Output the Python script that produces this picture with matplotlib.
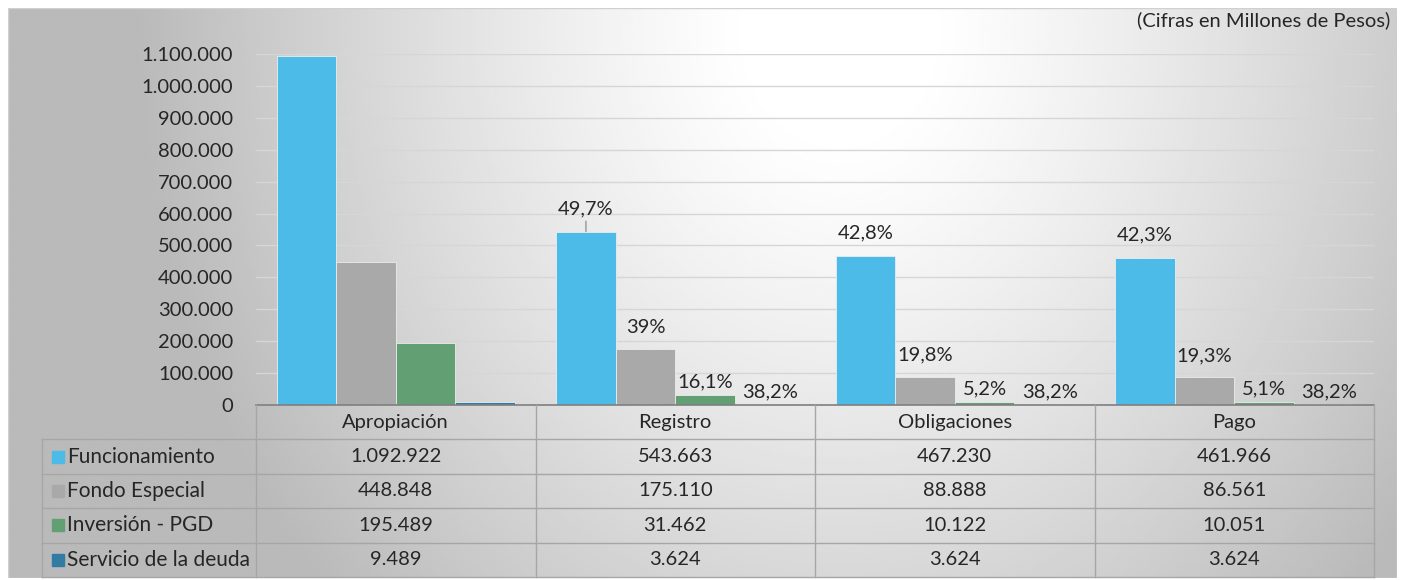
import numpy as np
import matplotlib.pyplot as plt
from matplotlib.patches import Rectangle

plt.rcParams['font.family'] = ['Lato', 'DejaVu Sans']

# Datos (millones de pesos)
categorias = ["Apropiación", "Registro", "Obligaciones", "Pago"]
series = ["Funcionamiento", "Fondo Especial", "Inversión - PGD", "Servicio de la deuda"]
funcionamiento = [1092922, 543663, 467230, 461966]
fondo_especial = [448848, 175110, 88888, 86561]
inversion_pgd = [195489, 31462, 10122, 10051]
servicio_deuda = [9489, 3624, 3624, 3624]

# etiquetas de porcentaje sobre las barras
pct_funcionamiento = ["", "49,7%", "42,8%", "42,3%"]
pct_fondo = ["", "39%", "19,8%", "19,3%"]
pct_inversion = ["", "16,1%", "5,2%", "5,1%"]
pct_servicio = ["", "38,2%", "38,2%", "38,2%"]

y_ticks = [0, 100000, 200000, 300000, 400000, 500000, 600000,
           700000, 800000, 900000, 1000000, 1100000]

colores = ["#4dbbe7", "#a9a9a9", "#62a073", "#327ba3"]
texto = "#262626"
linea = "#a6a6a6"
fs = 14.5


def miles(v):
    return f"{v:,}".replace(",", ".")


W, H = 1405, 580
fig = plt.figure(figsize=(W / 100, H / 100), dpi=100)


def fx(px):
    return px / W


def fy(py):
    return 1 - py / H


# fondo degradado
bg = fig.add_axes([fx(8), fy(578), fx(1397) - fx(8), fy(8) - fy(578)])
xx, yy = np.meshgrid(np.linspace(8, 1397, 500), np.linspace(8, 578, 220))
r = np.sqrt(((xx - 840) / 700) ** 2 + ((yy - 30) / 820) ** 2)
shade = 1 - 0.27 * np.clip((r - 0.12) / 0.88, 0, 1) ** 1.2
bg.imshow(shade, cmap='gray', vmin=0, vmax=1, extent=[0, 1, 0, 1],
          aspect='auto', origin='upper', interpolation='bilinear')
bg.add_patch(Rectangle((0, 0), 1, 1, transform=bg.transAxes, fill=False,
                       edgecolor='#d0d0d0', lw=1))
bg.axis('off')

# grafico de barras
ax = fig.add_axes([fx(256), fy(405), fx(1374) - fx(256), fy(54) - fy(405)])
ax.set_facecolor('none')
x = np.arange(len(categorias))
w = 0.213
valores = [funcionamiento, fondo_especial, inversion_pgd, servicio_deuda]
etiquetas = [pct_funcionamiento, pct_fondo, pct_inversion, pct_servicio]
despl_y = [23, 22, 13, 12]  # px sobre la barra
despl_x = [0, 0, 0, 6]

for j, (vals, col) in enumerate(zip(valores, colores)):
    pos = x + (j - 1.5) * w
    ax.bar(pos, vals, width=w, color=col, edgecolor='#ececec', lw=0.6, zorder=3)
    for i, (p, v, t) in enumerate(zip(pos, vals, etiquetas[j])):
        if not t:
            continue
        props = None
        if j == 0 and i == 1:
            props = dict(arrowstyle='-', color='#808080', lw=0.8, shrinkA=1, shrinkB=0)
        ax.annotate(t, xy=(p, v), xytext=(despl_x[j] * 0.72, despl_y[j] * 0.72),
                    textcoords='offset points', ha='center', va='center',
                    fontsize=fs, color=texto, arrowprops=props, zorder=4)

ax.set_xlim(-0.5, 3.5)
ax.set_ylim(0, 1100000)
ax.set_yticks(y_ticks)
ax.set_yticklabels([miles(v) for v in y_ticks])
ax.set_xticks([])
ax.tick_params(axis='y', length=0, pad=16.5, labelsize=fs, labelcolor=texto)
ax.yaxis.grid(True, color='#d6d6d6', lw=1)
ax.set_axisbelow(True)
for s in ['top', 'right', 'left']:
    ax.spines[s].set_visible(False)
ax.spines['bottom'].set_color('#7f7f7f')
ax.spines['bottom'].set_linewidth(1.2)
ax.spines['bottom'].set_zorder(5)

# tabla de datos
tb = fig.add_axes([fx(256), fy(577), fx(1374) - fx(256), fy(405) - fy(577)])
tb.set_xlim(-0.5, 3.5)
tb.set_ylim(5, 0)
tb.axis('off')


def px2x(px):
    return -0.5 + (px - 256) / 1118 * 4


izq = px2x(42)
for k in range(1, 6):
    tb.plot([izq, 3.5], [k, k], color=linea, lw=1, clip_on=False)
for xv in [-0.5, 0.5, 1.5, 2.5, 3.5]:
    tb.plot([xv, xv], [0, 5], color=linea, lw=1, clip_on=False)
tb.plot([izq, izq], [1, 5], color=linea, lw=1, clip_on=False)

for i, c in enumerate(categorias):
    tb.text(i, 0.5, c, ha='center', va='center', fontsize=fs, color=texto)
for r_i, (nombre, vals, col) in enumerate(zip(series, valores, colores)):
    yc = r_i + 1.5
    tb.add_patch(Rectangle((px2x(52), yc - 0.175), px2x(64) - px2x(52), 0.35,
                           color=col, clip_on=False))
    tb.text(px2x(67), yc, nombre, ha='left', va='center', fontsize=15, color=texto)
    for i, v in enumerate(vals):
        tb.text(i, yc, miles(v), ha='center', va='center', fontsize=fs, color=texto)

fig.text(fx(1390), fy(20), "(Cifras en Millones de Pesos)", ha='right', va='center',
         fontsize=fs, color=texto)

fig.savefig('out.png', dpi=100)
